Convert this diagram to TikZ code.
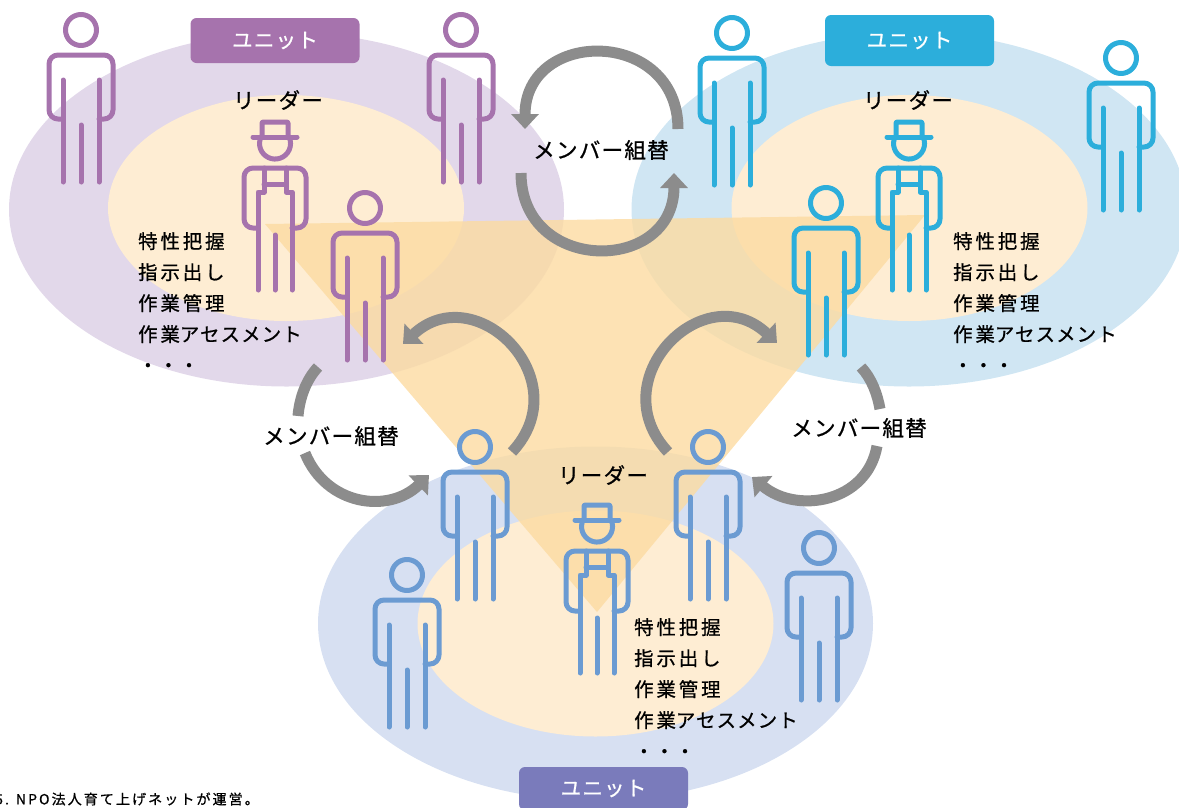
\documentclass[tikz,border=0pt]{standalone}
\usepackage{xcolor}
\usepackage{fontspec}
\usetikzlibrary{arrows.meta,positioning}
\newfontfamily\jpfont[LetterSpace=6,FakeBold=0.8]{Noto Sans CJK JP}
\newfontfamily\jpwide[LetterSpace=15,FakeBold=0.8]{Noto Sans CJK JP}
\definecolor{UnitPurple}{HTML}{A673AD}
\definecolor{UnitSky}{HTML}{2CAEDB}
\definecolor{UnitSteel}{HTML}{6B9BD2}
\definecolor{UnitIndigo}{HTML}{7A7BBB}
\definecolor{PaleLilac}{HTML}{E2D8EA}
\definecolor{PaleSky}{HTML}{D0E6F3}
\definecolor{PaleSteel}{HTML}{D7E0F2}
\definecolor{PaleCream}{HTML}{FEEDD3}
\definecolor{RingGray}{HTML}{8C8C8C}
\definecolor{TriangleGold}{HTML}{FCDBA1}

\begin{document}
\begin{tikzpicture} [yscale=-1, x=1pt, y=1pt,
       every node/.style={font=\jpfont\fontsize{21.5}{24}\selectfont, text=black},
       figline/.style={line width=5pt, line cap=round, line join=round, rounded corners=9pt},
       pics/member/.style={code={
         \begin{scope}[yscale=-1]
           \draw[figline,draw=#1] (0,0) circle [radius=15.5pt];
           \draw[figline,draw=#1] (-18,89) -- (-32,89) -- (-32,25) -- (32,25) -- (32,89) -- (18,89);
           \draw[figline,draw=#1] (-18,50) -- (-18,152);
           \draw[figline,draw=#1] (18,50) -- (18,152);
           \draw[figline,draw=#1] (0,95) -- (0,152);
         \end{scope}}},
       pics/leader/.style={code={
         \begin{scope}[yscale=-1]
           \draw[figline,draw=#1] (-22,0) -- (22,0);
           \draw[figline,draw=#1,rounded corners=1pt] (-13,0) -- (-13,-15) -- (13,-15) -- (13,0);
           \draw[figline,draw=#1] (-14,0) arc [start angle=205,end angle=-25,radius=15.5pt];
           \draw[figline,draw=#1] (-17,91) -- (-31,91) -- (-31,31) -- (31,31) -- (31,91) -- (17,91);
           \draw[figline,draw=#1,rounded corners=0pt] (-17,153) -- (-17,55) -- (-11,55) -- (-11,31);
           \draw[figline,draw=#1,rounded corners=0pt] (17,153) -- (17,55) -- (11,55) -- (11,31);
           \draw[figline,draw=#1] (-11,47) -- (11,47);
           \draw[figline,draw=#1] (0,98) -- (0,153);
         \end{scope}}},
       unitbox/.style={rounded corners=6pt, fill=#1, minimum width=169pt, minimum height=45pt,
                       inner sep=0pt, text=white, font=\jpfont\fontsize{20.5}{24}\selectfont},
       rolelist/.style={align=left, anchor=north west, inner sep=0pt,
                        font=\jpfont\fontsize{19.4}{31}\selectfont},
       swapring/.style={draw=RingGray, line width=11pt},
       swaphead/.style={swapring, -{Triangle[length=15pt,width=27pt]}}]

	\useasboundingbox (0,0) rectangle (1179,807);
	\clip (0,0) rectangle (1179,807);

	%% First the three unit ellipses with their inner leader areas
	\fill[PaleLilac] (286.5,209.5) ellipse [x radius=277.5pt,y radius=177pt];
	\fill[PaleSky] (909,209.5) ellipse [x radius=277.5pt,y radius=177pt];
	\fill[PaleSteel] (595.5,623.5) ellipse [x radius=277.5pt,y radius=177pt];
	\fill[PaleCream] (286,208) ellipse [x radius=178pt,y radius=113pt];
	\fill[PaleCream] (909.5,208) ellipse [x radius=178pt,y radius=113pt];
	\fill[PaleCream] (595.5,623.5) ellipse [x radius=178pt,y radius=113pt];

	%% Leaders' triangle
	\fill[TriangleGold,opacity=0.8] (265,224) -- (925,215) -- (597,612) -- cycle;

	%% Add the people
	\foreach \x/\y in {81/30,461/30,365/208}
		{\pic at (\x,\y) {member=UnitPurple};}
	\foreach \x/\y in {732/33,1121/58,826/203}
		{\pic at (\x,\y) {member=UnitSky};}
	\foreach \x/\y in {475/447,708/447,407/575,819/548}
		{\pic at (\x,\y) {member=UnitSteel};}
	\pic at (275,137) {leader=UnitPurple};
	\pic at (909,137) {leader=UnitSky};
	\pic at (597,520) {leader=UnitSteel};

	%% Unit tags
	\node[unitbox=UnitPurple] (tagpurple) at (275,40.5) {ユニット};
	\node[unitbox=UnitSky,minimum height=51pt] (tagsky) at (909.5,40.5) {ユニット};
	\node[unitbox=UnitIndigo,minimum height=43pt] (tagindigo) at (603.5,788.5) {ユニット};

	%% Labels
	\node (leadpurple) at (278,100) {リーダー};
	\node (leadsky) at (908,100) {リーダー};
	\node (leadsteel) at (603,475) {リーダー};
	\node (swaptop) at (601,150) {メンバー組替};
	\node (swapleft) at (331,436) {メンバー組替};
	\node (swapright) at (859,428) {メンバー組替};
	\foreach \nm/\x/\y in {listpurple/138/232,listsky/953/232,liststeel/634/618}
		{\node[rolelist] (\nm) at (\x,\y) {{\jpwide 特性把握}\\{\jpwide 指示出し}\\{\jpwide 作業管理}\\{\jpwide 作業}アセスメント\\・・・};}
	\node[anchor=west,inner sep=0pt,font=\jpwide\fontsize{14}{17}\selectfont] (footnote) at (-5,799) {5. NPO法人育て上げネットが運営。};

	%% Swap rings between the units
	\coordinate (topa) at (678,129);
	\coordinate (topb) at (525,129);
	\coordinate (topc) at (521,173);
	\coordinate (topd) at (674,173);
	\draw[swaphead] (topa) to[out=-90,in=-90,looseness=1.7] (topb);
	\draw[swaphead] (topc) to[out=90,in=90,looseness=1.7] (topd);

	\coordinate (lefta) at (512,452);
	\coordinate (leftb) at (403,344);
	\coordinate (leftc) at (318,367);
	\coordinate (leftd) at (298,416);
	\coordinate (lefte) at (305,453);
	\coordinate (leftf) at (429,475);
	\draw[swaphead] (lefta) to[out=-47,in=-43,looseness=1.65] (leftb);
	\draw[swapring] (leftc) to[out=133,in=275,looseness=.86] (leftd);
	\draw[swaphead] (lefte) to[out=68,in=136,looseness=1.15] (leftf);

	\coordinate (righta) at (668,452);
	\coordinate (rightb) at (777,343);
	\coordinate (rightc) at (861,367);
	\coordinate (rightd) at (880,409);
	\coordinate (righte) at (877,446);
	\coordinate (rightf) at (752,477);
	\draw[swaphead] (righta) to[out=-133,in=223,looseness=1.65] (rightb);
	\draw[swapring] (rightc) to[out=47,in=-100,looseness=.86] (rightd);
	\draw[swaphead] (righte) to[out=100,in=40,looseness=1.15] (rightf);
\end{tikzpicture}
\end{document}
